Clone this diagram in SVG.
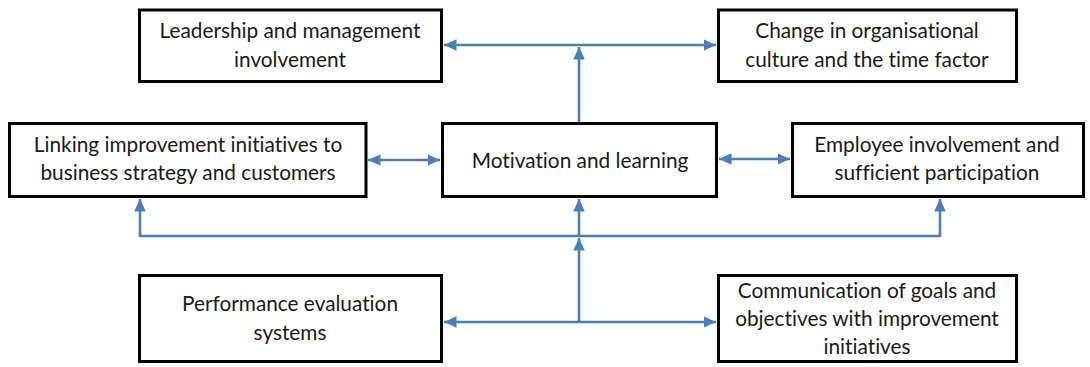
<svg xmlns="http://www.w3.org/2000/svg" width="1090" height="367" viewBox="0 0 1090 367">
<style>
.box{fill:#fff;stroke:#000;stroke-width:3}
.t{font-family:Lato,"Liberation Sans",sans-serif;font-size:20.8px;fill:#1a1a1a;text-anchor:middle;font-variant-ligatures:none}
.c{fill:none;stroke:#4a7ebb;stroke-width:2.6}
.a{marker-end:url(#ah)}
.b{marker-start:url(#ah);marker-end:url(#ah)}
</style>
<defs>
<marker id="ah" markerUnits="userSpaceOnUse" markerWidth="14" markerHeight="14" viewBox="0 0 14 14" refX="12.5" refY="7" orient="auto-start-reverse">
<path d="M0,1.2 L12.5,7 L0,12.8 Z" fill="#4a7ebb"/>
</marker>
</defs>
<rect width="1090" height="367" fill="#fff"/>
<g id="connectors">
<line class="c b" x1="444" y1="45" x2="716" y2="45"/>
<line class="c a" x1="579" y1="123" x2="579" y2="47"/>
<line class="c b" x1="368" y1="160" x2="440" y2="160"/>
<line class="c b" x1="719" y1="159" x2="790" y2="159"/>
<polyline class="c" points="140,236 940,236"/>
<line class="c a" x1="140" y1="237" x2="140" y2="199"/>
<line class="c a" x1="940" y1="237" x2="940" y2="199"/>
<line class="c a" x1="579" y1="236" x2="579" y2="199"/>
<line class="c a" x1="579" y1="322" x2="579" y2="238"/>
<line class="c b" x1="444" y1="322" x2="716" y2="322"/>
</g>
<g id="leadership">
<rect class="box" x="139.5" y="10" width="302" height="71.5"/>
<text class="t" x="290" y="38">Leadership and management</text>
<text class="t" x="290" y="67">involvement</text>
</g>
<g id="change">
<rect class="box" x="718.5" y="10" width="298" height="71.5"/>
<text class="t" x="867" y="38">Change in organisational</text>
<text class="t" x="867" y="67">culture and the time factor</text>
</g>
<g id="linking">
<rect class="box" x="9.5" y="123.5" width="356.5" height="73"/>
<text class="t" x="188" y="152">Linking improvement initiatives to</text>
<text class="t" x="188" y="180">business strategy and customers</text>
</g>
<g id="motivation">
<rect class="box" x="442.5" y="123.5" width="274" height="73"/>
<text class="t" x="580" y="168">Motivation and learning</text>
</g>
<g id="employee">
<rect class="box" x="792.5" y="123.5" width="291" height="73"/>
<text class="t" x="937" y="152">Employee involvement and</text>
<text class="t" x="937" y="180">sufficient participation</text>
</g>
<g id="performance">
<rect class="box" x="139.5" y="275.5" width="302" height="86"/>
<text class="t" x="290" y="311">Performance evaluation</text>
<text class="t" x="290" y="340">systems</text>
</g>
<g id="communication">
<rect class="box" x="718.5" y="275.5" width="298" height="86"/>
<text class="t" x="867" y="298">Communication of goals and</text>
<text class="t" x="867" y="326">objectives with improvement</text>
<text class="t" x="867" y="354">initiatives</text>
</g>
</svg>
